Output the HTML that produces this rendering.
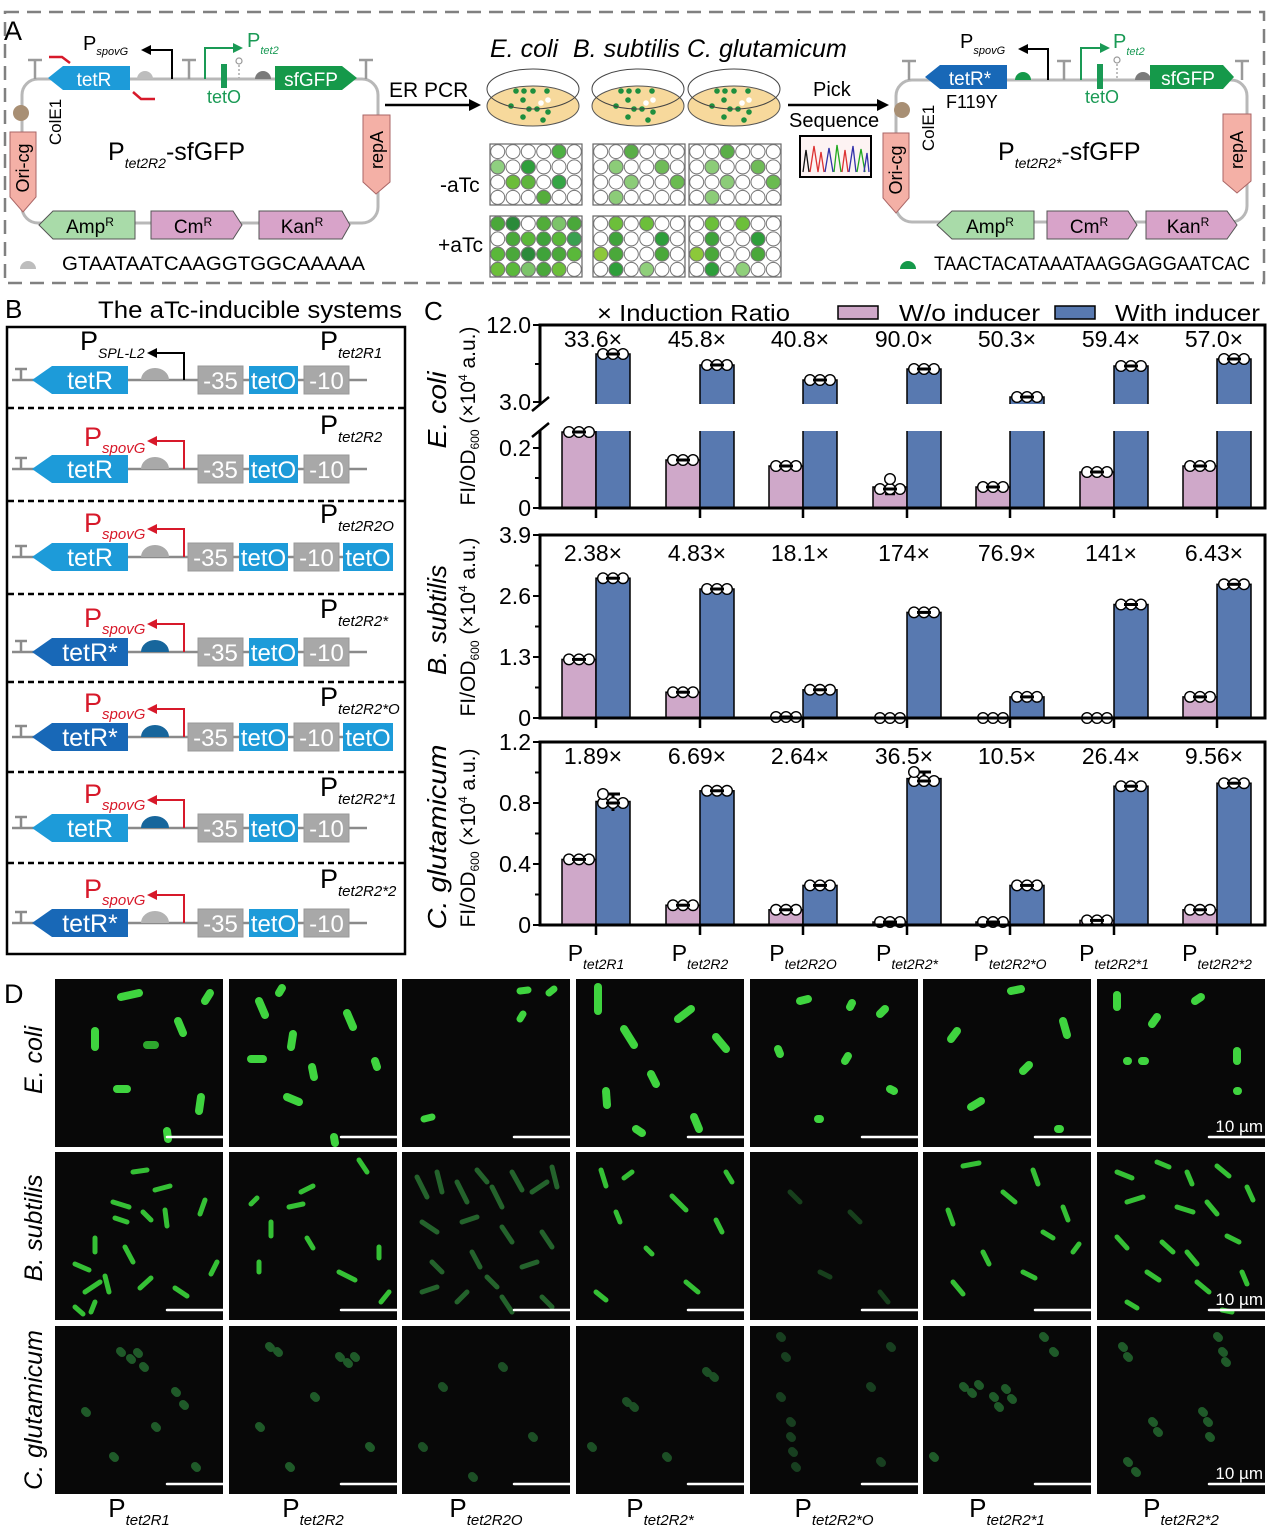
<!DOCTYPE html>
<html><head><meta charset="utf-8"><title>aTc-inducible systems figure</title>
<style>html,body{margin:0;padding:0;background:#fff}svg{display:block}text{font-family:"Liberation Sans",Arial,sans-serif}</style>
</head><body>
<svg xmlns="http://www.w3.org/2000/svg" xmlns:xlink="http://www.w3.org/1999/xlink" width="1270" height="1528" viewBox="0 0 1270 1528">
<defs>
<g id="plate"><rect x="0" y="0" width="92" height="61" fill="#fff" stroke="#666" stroke-width="1.2"/>
<g fill="none" stroke="#777" stroke-width="1">
<circle cx="7.7" cy="7.6" r="7"/><circle cx="23" cy="7.6" r="7"/><circle cx="38.3" cy="7.6" r="7"/><circle cx="53.7" cy="7.6" r="7"/><circle cx="69" cy="7.6" r="7"/><circle cx="84.3" cy="7.6" r="7"/>
<circle cx="7.7" cy="22.9" r="7"/><circle cx="23" cy="22.9" r="7"/><circle cx="38.3" cy="22.9" r="7"/><circle cx="53.7" cy="22.9" r="7"/><circle cx="69" cy="22.9" r="7"/><circle cx="84.3" cy="22.9" r="7"/>
<circle cx="7.7" cy="38.1" r="7"/><circle cx="23" cy="38.1" r="7"/><circle cx="38.3" cy="38.1" r="7"/><circle cx="53.7" cy="38.1" r="7"/><circle cx="69" cy="38.1" r="7"/><circle cx="84.3" cy="38.1" r="7"/>
<circle cx="7.7" cy="53.4" r="7"/><circle cx="23" cy="53.4" r="7"/><circle cx="38.3" cy="53.4" r="7"/><circle cx="53.7" cy="53.4" r="7"/><circle cx="69" cy="53.4" r="7"/><circle cx="84.3" cy="53.4" r="7"/>
</g></g>
<g id="d3"><circle cx="-10" cy="0" r="5.3" fill="#fff" stroke="#000" stroke-width="1.4"/><circle cx="0" cy="0" r="5.3" fill="#fff" stroke="#000" stroke-width="1.4"/><circle cx="10" cy="0" r="5.3" fill="#fff" stroke="#000" stroke-width="1.4"/><line x1="-7" y1="0" x2="7" y2="0" stroke="#000" stroke-width="3"/></g>
<clipPath id="ci"><rect x="0" y="0" width="168" height="168"/></clipPath>
</defs>

<!-- ================= PANEL A ================= -->
<rect x="5" y="12" width="1259" height="271" fill="none" stroke="#808080" stroke-width="2.5" stroke-dasharray="14 8"/>
<text x="4" y="40" font-size="27">A</text>

<!-- left plasmid -->
<rect x="22" y="79" width="356" height="144" rx="16" fill="none" stroke="#b8b8b8" stroke-width="3"/>
<path d="M35 79V60M28 60H42M189 79V60M182 60H196M366 79V60M359 60H373" stroke="#9a9a9a" stroke-width="2.5" fill="none"/>
<polygon points="48,78 63,66 130,66 130,90 63,90" fill="#1d9bd9"/>
<text x="94" y="86" font-size="19" fill="#fff" text-anchor="middle">tetR</text>
<path d="M137 79 A8 8 0 0 1 153 79 Z" fill="#bdbdbd"/>
<path d="M172 79V50H150" stroke="#000" stroke-width="2" fill="none"/>
<polygon points="141,50 151,45 151,55" fill="#000"/>
<text x="83" y="50" font-size="20">P<tspan font-size="11" font-style="italic" dy="5">spovG</tspan></text>
<path d="M205 79V48H234" stroke="#1a9a55" stroke-width="2" fill="none"/>
<polygon points="243,48 233,43 233,53" fill="#1a9a55"/>
<text x="247" y="47" font-size="20" fill="#1a9a55">P<tspan font-size="11" font-style="italic" dy="7">tet2</tspan></text>
<rect x="221" y="64" width="6" height="24" fill="#1a9a55"/>
<text x="224" y="103" font-size="18" fill="#1a9a55" text-anchor="middle">tetO</text>
<circle cx="239" cy="61" r="3" fill="#fff" stroke="#999" stroke-width="1.2"/>
<path d="M239 65V78" stroke="#aaa" stroke-width="1.5" stroke-dasharray="2 2"/>
<path d="M255 79 A8 8 0 0 1 271 79 Z" fill="#7a7a7a"/>
<polygon points="275,66 342,66 357,78 342,90 275,90" fill="#15994a"/>
<text x="311" y="86" font-size="19" fill="#fff" text-anchor="middle">sfGFP</text>
<path d="M49 57L62 57L70 63" stroke="#d7192a" stroke-width="2.5" fill="none"/>
<path d="M133 92L141 99L155 99" stroke="#d7192a" stroke-width="2.5" fill="none"/>
<circle cx="21" cy="113" r="8" fill="#a88f74"/>
<polygon points="10,132 36,132 36,197 23,212 10,197" fill="#f4b0a6" stroke="#a66" stroke-width="1"/>
<text transform="translate(23,168) rotate(-90)" x="0" y="6" font-size="18" text-anchor="middle">Ori-cg</text>
<text transform="translate(55,122) rotate(-90)" x="0" y="6" font-size="17" text-anchor="middle">ColE1</text>
<text x="108" y="160" font-size="25">P<tspan font-size="14" font-style="italic" dy="8">tet2R2</tspan><tspan dy="-8">-sfGFP</tspan></text>
<polygon points="363,115 390,115 390,182 376,194 363,182" fill="#f4b0a6" stroke="#a66" stroke-width="1"/>
<text transform="translate(377,150) rotate(-90)" x="0" y="6" font-size="18" text-anchor="middle">repA</text>
<polygon points="39,225 53,211 135,211 135,239 53,239" fill="#a9dba9" stroke="#555" stroke-width="1"/>
<text x="90" y="233" font-size="19" text-anchor="middle">Amp<tspan font-size="12" dy="-7">R</tspan></text>
<polygon points="151,211 233,211 242,225 233,239 151,239" fill="#d8a3c9" stroke="#555" stroke-width="1"/>
<text x="193" y="233" font-size="19" text-anchor="middle">Cm<tspan font-size="12" dy="-7">R</tspan></text>
<polygon points="259,211 342,211 350,225 342,239 259,239" fill="#d8a3c9" stroke="#555" stroke-width="1"/>
<text x="302" y="233" font-size="19" text-anchor="middle">Kan<tspan font-size="12" dy="-7">R</tspan></text>
<path d="M20 269 A8 8 0 0 1 36 269 Z" fill="#bdbdbd"/>
<text x="62" y="270" font-size="19" textLength="303" lengthAdjust="spacingAndGlyphs">GTAATAATCAAGGTGGCAAAAA</text>

<!-- middle -->
<text x="490" y="57" font-size="25" font-style="italic">E. coli</text>
<text x="573" y="57" font-size="25" font-style="italic">B. subtilis</text>
<text x="687" y="57" font-size="25" font-style="italic">C. glutamicum</text>
<text x="389" y="97" font-size="21">ER PCR</text>
<path d="M385 105H471" stroke="#000" stroke-width="2.5"/>
<polygon points="481,105 469,99 469,111" fill="#000"/>
<g>
<ellipse cx="533" cy="106" rx="46" ry="20" fill="#f7d99c" stroke="#555" stroke-width="1"/>
<ellipse cx="638" cy="106" rx="46" ry="20" fill="#f7d99c" stroke="#555" stroke-width="1"/>
<ellipse cx="734" cy="106" rx="46" ry="20" fill="#f7d99c" stroke="#555" stroke-width="1"/>
</g>
<g fill="#1e8f3e">
<circle cx="516" cy="91" r="2.8"/><circle cx="524" cy="91" r="2.8"/><circle cx="533" cy="91" r="2.8"/><circle cx="547" cy="91" r="2.8"/><circle cx="523" cy="100" r="2.8"/><circle cx="511" cy="106" r="2.8"/><circle cx="529" cy="109" r="2.8"/><circle cx="537" cy="109" r="2.8"/><circle cx="548" cy="112" r="2.8"/><circle cx="523" cy="117" r="2.8"/><circle cx="543" cy="120" r="2.8"/>
<circle cx="621" cy="91" r="2.8"/><circle cx="629" cy="91" r="2.8"/><circle cx="638" cy="91" r="2.8"/><circle cx="652" cy="91" r="2.8"/><circle cx="628" cy="100" r="2.8"/><circle cx="616" cy="106" r="2.8"/><circle cx="634" cy="109" r="2.8"/><circle cx="642" cy="109" r="2.8"/><circle cx="653" cy="112" r="2.8"/><circle cx="628" cy="117" r="2.8"/><circle cx="648" cy="120" r="2.8"/>
<circle cx="717" cy="91" r="2.8"/><circle cx="725" cy="91" r="2.8"/><circle cx="734" cy="91" r="2.8"/><circle cx="748" cy="91" r="2.8"/><circle cx="724" cy="100" r="2.8"/><circle cx="712" cy="106" r="2.8"/><circle cx="730" cy="109" r="2.8"/><circle cx="738" cy="109" r="2.8"/><circle cx="749" cy="112" r="2.8"/><circle cx="724" cy="117" r="2.8"/><circle cx="744" cy="120" r="2.8"/>
</g>
<g fill="#fff"><circle cx="548" cy="100" r="2.8"/><circle cx="541" cy="103" r="2.8"/><circle cx="653" cy="100" r="2.8"/><circle cx="646" cy="103" r="2.8"/><circle cx="749" cy="100" r="2.8"/><circle cx="742" cy="103" r="2.8"/></g>
<g fill="none" stroke="#444" stroke-width="1">
<ellipse cx="533" cy="89" rx="46" ry="20"/><ellipse cx="638" cy="89" rx="46" ry="20"/><ellipse cx="734" cy="89" rx="46" ry="20"/>
</g>
<text x="440" y="192" font-size="21">-aTc</text>
<text x="438" y="252" font-size="21">+aTc</text>
<use xlink:href="#plate" x="490" y="144"/><use xlink:href="#plate" x="593" y="144"/><use xlink:href="#plate" x="689" y="144"/>
<use xlink:href="#plate" x="490" y="216"/><use xlink:href="#plate" x="593" y="216"/><use xlink:href="#plate" x="689" y="216"/>
<g stroke="#777" stroke-width="1">
<circle cx="559" cy="151.6" r="7" fill="#4db043"/><circle cx="497.7" cy="166.9" r="7" fill="#8fcf80"/><circle cx="528.3" cy="166.9" r="7" fill="#2f9f3c"/><circle cx="513" cy="182.1" r="7" fill="#6cbd3a"/><circle cx="528.3" cy="182.1" r="7" fill="#5eb53c"/><circle cx="559" cy="182.1" r="7" fill="#35a545"/><circle cx="543.7" cy="197.4" r="7" fill="#55ad3c"/>
<circle cx="631.3" cy="151.6" r="7" fill="#5aae48"/><circle cx="616" cy="166.9" r="7" fill="#8ccc78"/><circle cx="662" cy="166.9" r="7" fill="#6fbb58"/><circle cx="631.3" cy="182.1" r="7" fill="#8ccc78"/><circle cx="677.3" cy="182.1" r="7" fill="#6abb50"/><circle cx="616" cy="197.4" r="7" fill="#8ccc78"/>
<circle cx="727.3" cy="151.6" r="7" fill="#5aae48"/><circle cx="712" cy="166.9" r="7" fill="#8ccc78"/><circle cx="758" cy="166.9" r="7" fill="#6fbb58"/><circle cx="727.3" cy="182.1" r="7" fill="#8ccc78"/><circle cx="773.3" cy="182.1" r="7" fill="#6abb50"/><circle cx="712" cy="197.4" r="7" fill="#8ccc78"/>
<circle cx="497.7" cy="223.6" r="7" fill="#4aa83a"/><circle cx="513" cy="223.6" r="7" fill="#2a8a3a"/><circle cx="543.7" cy="223.6" r="7" fill="#52ad3a"/><circle cx="559" cy="223.6" r="7" fill="#7cc46a"/><circle cx="574.3" cy="223.6" r="7" fill="#4aa83a"/>
<circle cx="513" cy="238.9" r="7" fill="#4aa83a"/><circle cx="528.3" cy="238.9" r="7" fill="#5ab83a"/><circle cx="543.7" cy="238.9" r="7" fill="#3fa33a"/><circle cx="559" cy="238.9" r="7" fill="#5ab83a"/><circle cx="574.3" cy="238.9" r="7" fill="#3aa050"/>
<circle cx="497.7" cy="254.1" r="7" fill="#5ab83a"/><circle cx="513" cy="254.1" r="7" fill="#4aa83a"/><circle cx="528.3" cy="254.1" r="7" fill="#2a8a3a"/><circle cx="543.7" cy="254.1" r="7" fill="#3fa33a"/><circle cx="559" cy="254.1" r="7" fill="#4aa83a"/><circle cx="574.3" cy="254.1" r="7" fill="#5ab83a"/>
<circle cx="497.7" cy="269.4" r="7" fill="#6cbf3a"/><circle cx="513" cy="269.4" r="7" fill="#5ab83a"/><circle cx="528.3" cy="269.4" r="7" fill="#7cc46a"/><circle cx="543.7" cy="269.4" r="7" fill="#4aa83a"/><circle cx="559" cy="269.4" r="7" fill="#6cbf3a"/>
<circle cx="616" cy="223.6" r="7" fill="#6cbf3a"/><circle cx="646.7" cy="223.6" r="7" fill="#6cbf3a"/><circle cx="616" cy="238.9" r="7" fill="#3fa33a"/><circle cx="662" cy="238.9" r="7" fill="#2e9e3a"/><circle cx="600.7" cy="254.1" r="7" fill="#8cc83a"/><circle cx="616" cy="254.1" r="7" fill="#4aa83a"/><circle cx="662" cy="254.1" r="7" fill="#4aa83a"/><circle cx="616" cy="269.4" r="7" fill="#2e9e3a"/><circle cx="646.7" cy="269.4" r="7" fill="#8fcf7a"/>
<circle cx="712" cy="223.6" r="7" fill="#6cbf3a"/><circle cx="742.7" cy="223.6" r="7" fill="#6cbf3a"/><circle cx="712" cy="238.9" r="7" fill="#3fa33a"/><circle cx="758" cy="238.9" r="7" fill="#2e9e3a"/><circle cx="696.7" cy="254.1" r="7" fill="#8cc83a"/><circle cx="712" cy="254.1" r="7" fill="#4aa83a"/><circle cx="758" cy="254.1" r="7" fill="#4aa83a"/><circle cx="712" cy="269.4" r="7" fill="#2e9e3a"/><circle cx="742.7" cy="269.4" r="7" fill="#8fcf7a"/>
</g>
<text x="813" y="96" font-size="20">Pick</text>
<path d="M788 105H878" stroke="#000" stroke-width="2.5"/>
<polygon points="889,105 877,99 877,111" fill="#000"/>
<text x="789" y="127" font-size="20">Sequence</text>
<rect x="800" y="136" width="71" height="41" fill="#fdf3f3" stroke="#000" stroke-width="2"/>
<g fill="none" stroke-width="1.3">
<polyline points="803,172 806,150 809,172" stroke="#111"/>
<polyline points="810,172 814,146 818,172 821,152 824,172" stroke="#d33"/>
<polyline points="825,172 829,148 833,172" stroke="#33a"/>
<polyline points="834,172 837,145 841,172" stroke="#2a2"/>
<polyline points="842,172 845,150 848,172" stroke="#d33"/>
<polyline points="849,172 853,146 856,172" stroke="#33a"/>
<polyline points="857,172 861,149 865,172" stroke="#2a2"/>
<polyline points="864,172 867,153 869,172" stroke="#33a"/>
</g>

<!-- right plasmid -->
<rect x="896" y="80" width="351" height="142" rx="16" fill="none" stroke="#b8b8b8" stroke-width="3"/>
<path d="M909 80V61M902 61H916M1064 80V61M1057 61H1071M1242 80V61M1235 61H1249" stroke="#9a9a9a" stroke-width="2.5" fill="none"/>
<polygon points="925,77 940,65 1007,65 1007,89 940,89" fill="#1868b7"/>
<text x="970" y="85" font-size="19" fill="#fff" text-anchor="middle">tetR*</text>
<text x="946" y="108" font-size="18">F119Y</text>
<path d="M1015 80 A8 8 0 0 1 1031 80 Z" fill="#15994a"/>
<path d="M1048 80V49H1027" stroke="#000" stroke-width="2" fill="none"/>
<polygon points="1018,49 1028,44 1028,54" fill="#000"/>
<text x="960" y="48" font-size="20">P<tspan font-size="11" font-style="italic" dy="6">spovG</tspan></text>
<path d="M1081 80V48H1101" stroke="#1a9a55" stroke-width="2" fill="none"/>
<polygon points="1110,48 1100,43 1100,53" fill="#1a9a55"/>
<text x="1113" y="48" font-size="20" fill="#1a9a55">P<tspan font-size="11" font-style="italic" dy="7">tet2</tspan></text>
<rect x="1097" y="64" width="6" height="25" fill="#1a9a55"/>
<text x="1102" y="103" font-size="18" fill="#1a9a55" text-anchor="middle">tetO</text>
<circle cx="1117" cy="60" r="3" fill="#fff" stroke="#999" stroke-width="1.2"/>
<path d="M1117 64V79" stroke="#aaa" stroke-width="1.5" stroke-dasharray="2 2"/>
<path d="M1135 80 A8 8 0 0 1 1151 80 Z" fill="#7a7a7a"/>
<polygon points="1150,65 1223,65 1234,77 1223,89 1150,89" fill="#15994a"/>
<text x="1188" y="85" font-size="19" fill="#fff" text-anchor="middle">sfGFP</text>
<circle cx="902" cy="110" r="8" fill="#a88f74"/>
<polygon points="883,133 909,133 909,198 896,213 883,198" fill="#f4b0a6" stroke="#a66" stroke-width="1"/>
<text transform="translate(896,170) rotate(-90)" x="0" y="6" font-size="18" text-anchor="middle">Ori-cg</text>
<text transform="translate(928,128) rotate(-90)" x="0" y="6" font-size="17" text-anchor="middle">ColE1</text>
<text x="998" y="160" font-size="25">P<tspan font-size="14" font-style="italic" dy="8">tet2R2*</tspan><tspan dy="-8">-sfGFP</tspan></text>
<polygon points="1223,114 1251,114 1251,181 1237,193 1223,181" fill="#f4b0a6" stroke="#a66" stroke-width="1"/>
<text transform="translate(1237,150) rotate(-90)" x="0" y="6" font-size="18" text-anchor="middle">repA</text>
<polygon points="937,225 952,211 1034,211 1034,239 952,239" fill="#a9dba9" stroke="#555" stroke-width="1"/>
<text x="990" y="233" font-size="19" text-anchor="middle">Amp<tspan font-size="12" dy="-7">R</tspan></text>
<polygon points="1047,211 1128,211 1137,225 1128,239 1047,239" fill="#d8a3c9" stroke="#555" stroke-width="1"/>
<text x="1089" y="233" font-size="19" text-anchor="middle">Cm<tspan font-size="12" dy="-7">R</tspan></text>
<polygon points="1146,211 1227,211 1237,225 1227,239 1146,239" fill="#d8a3c9" stroke="#555" stroke-width="1"/>
<text x="1188" y="233" font-size="19" text-anchor="middle">Kan<tspan font-size="12" dy="-7">R</tspan></text>
<path d="M900 269 A8 8 0 0 1 916 269 Z" fill="#15994a"/>
<text x="934" y="270" font-size="19" textLength="316" lengthAdjust="spacingAndGlyphs">TAACTACATAAATAAGGAGGAATCAC</text>

<!-- ================= PANEL B ================= -->
<text x="5" y="318" font-size="26">B</text>
<text x="98" y="318" font-size="24" textLength="304" lengthAdjust="spacingAndGlyphs">The aTc-inducible systems</text>
<rect x="7" y="327" width="398" height="627" fill="none" stroke="#000" stroke-width="2.5"/>
<g stroke="#000" stroke-width="2.5" stroke-dasharray="6 4">
<path d="M8 408H404M8 501H404M8 594H404M8 682H404M8 772H404M8 863H404"/>
</g>

<!-- row 1 -->
<g>
<path d="M12 380H367" stroke="#8a8a8a" stroke-width="2.5"/>
<path d="M21 380V369M15 369H27" stroke="#8a8a8a" stroke-width="2.5" fill="none"/>
<polygon points="32,380 52,366 128,366 128,394 52,394" fill="#1d9bd9"/>
<text x="90" y="389" font-size="25" fill="#fff" text-anchor="middle">tetR</text>
<path d="M141 380 A14 12 0 0 1 169 380 Z" fill="#a9a9a9"/>
<path d="M184 380V353H156" stroke="#000" stroke-width="2" fill="none"/>
<polygon points="147,353 157,348 157,358" fill="#000"/>
<text x="80" y="350" font-size="27">P<tspan font-size="14" font-style="italic" dy="8">SPL-L2</tspan></text>
<rect x="198" y="366" width="45" height="28" fill="#a8a8a8" stroke="#999"/><text x="220.5" y="389" font-size="24" fill="#fff" text-anchor="middle">-35</text>
<rect x="249" y="366" width="49" height="28" fill="#1d9bd9"/><text x="273.5" y="389" font-size="24" fill="#fff" text-anchor="middle">tetO</text>
<rect x="304" y="366" width="45" height="28" fill="#a8a8a8" stroke="#999"/><text x="326.5" y="389" font-size="24" fill="#fff" text-anchor="middle">-10</text>
<text x="320" y="350" font-size="27">P<tspan font-size="15" font-style="italic" dy="8">tet2R1</tspan></text>
</g>
<!-- row 2 -->
<g>
<path d="M12 469H367" stroke="#8a8a8a" stroke-width="2.5"/>
<path d="M21 469V458M15 458H27" stroke="#8a8a8a" stroke-width="2.5" fill="none"/>
<polygon points="32,469 52,455 128,455 128,483 52,483" fill="#1d9bd9"/>
<text x="90" y="478" font-size="25" fill="#fff" text-anchor="middle">tetR</text>
<path d="M141 469 A14 12 0 0 1 169 469 Z" fill="#a9a9a9"/>
<path d="M184 469V441H156" stroke="#d7192a" stroke-width="2" fill="none"/>
<polygon points="147,441 157,436 157,446" fill="#d7192a"/>
<text x="84" y="446" font-size="27" fill="#d7192a">P<tspan font-size="15" font-style="italic" dy="7">spovG</tspan></text>
<rect x="198" y="455" width="45" height="28" fill="#a8a8a8" stroke="#999"/><text x="220.5" y="478" font-size="24" fill="#fff" text-anchor="middle">-35</text>
<rect x="249" y="455" width="49" height="28" fill="#1d9bd9"/><text x="273.5" y="478" font-size="24" fill="#fff" text-anchor="middle">tetO</text>
<rect x="304" y="455" width="45" height="28" fill="#a8a8a8" stroke="#999"/><text x="326.5" y="478" font-size="24" fill="#fff" text-anchor="middle">-10</text>
<text x="320" y="434" font-size="27">P<tspan font-size="15" font-style="italic" dy="8">tet2R2</tspan></text>
</g>
<!-- row 3 -->
<g>
<path d="M12 557H393" stroke="#8a8a8a" stroke-width="2.5"/>
<path d="M21 557V546M15 546H27" stroke="#8a8a8a" stroke-width="2.5" fill="none"/>
<polygon points="32,557 52,543 128,543 128,571 52,571" fill="#1d9bd9"/>
<text x="90" y="566" font-size="25" fill="#fff" text-anchor="middle">tetR</text>
<path d="M141 557 A14 12 0 0 1 169 557 Z" fill="#a9a9a9"/>
<path d="M184 557V529H156" stroke="#d7192a" stroke-width="2" fill="none"/>
<polygon points="147,529 157,524 157,534" fill="#d7192a"/>
<text x="84" y="532" font-size="27" fill="#d7192a">P<tspan font-size="15" font-style="italic" dy="7">spovG</tspan></text>
<rect x="188" y="543" width="45" height="28" fill="#a8a8a8" stroke="#999"/><text x="210.5" y="566" font-size="24" fill="#fff" text-anchor="middle">-35</text>
<rect x="239" y="543" width="49" height="28" fill="#1d9bd9"/><text x="263.5" y="566" font-size="24" fill="#fff" text-anchor="middle">tetO</text>
<rect x="294" y="543" width="45" height="28" fill="#a8a8a8" stroke="#999"/><text x="316.5" y="566" font-size="24" fill="#fff" text-anchor="middle">-10</text>
<rect x="343" y="543" width="50" height="28" fill="#1d9bd9"/><text x="368" y="566" font-size="24" fill="#fff" text-anchor="middle">tetO</text>
<text x="320" y="523" font-size="27">P<tspan font-size="15" font-style="italic" dy="8">tet2R2O</tspan></text>
</g>
<!-- row 4 -->
<g>
<path d="M12 652H367" stroke="#8a8a8a" stroke-width="2.5"/>
<path d="M21 652V641M15 641H27" stroke="#8a8a8a" stroke-width="2.5" fill="none"/>
<polygon points="32,652 52,638 128,638 128,666 52,666" fill="#1868b7"/>
<text x="90" y="661" font-size="25" fill="#fff" text-anchor="middle">tetR*</text>
<path d="M141 652 A14 12 0 0 1 169 652 Z" fill="#17669c"/>
<path d="M184 652V624H156" stroke="#d7192a" stroke-width="2" fill="none"/>
<polygon points="147,624 157,619 157,629" fill="#d7192a"/>
<text x="84" y="627" font-size="27" fill="#d7192a">P<tspan font-size="15" font-style="italic" dy="7">spovG</tspan></text>
<rect x="198" y="638" width="45" height="28" fill="#a8a8a8" stroke="#999"/><text x="220.5" y="661" font-size="24" fill="#fff" text-anchor="middle">-35</text>
<rect x="249" y="638" width="49" height="28" fill="#1d9bd9"/><text x="273.5" y="661" font-size="24" fill="#fff" text-anchor="middle">tetO</text>
<rect x="304" y="638" width="45" height="28" fill="#a8a8a8" stroke="#999"/><text x="326.5" y="661" font-size="24" fill="#fff" text-anchor="middle">-10</text>
<text x="320" y="618" font-size="27">P<tspan font-size="15" font-style="italic" dy="8">tet2R2*</tspan></text>
</g>
<!-- row 5 -->
<g>
<path d="M12 737H393" stroke="#8a8a8a" stroke-width="2.5"/>
<path d="M21 737V726M15 726H27" stroke="#8a8a8a" stroke-width="2.5" fill="none"/>
<polygon points="32,737 52,723 128,723 128,751 52,751" fill="#1868b7"/>
<text x="90" y="746" font-size="25" fill="#fff" text-anchor="middle">tetR*</text>
<path d="M141 737 A14 12 0 0 1 169 737 Z" fill="#17669c"/>
<path d="M184 737V709H156" stroke="#d7192a" stroke-width="2" fill="none"/>
<polygon points="147,709 157,704 157,714" fill="#d7192a"/>
<text x="84" y="712" font-size="27" fill="#d7192a">P<tspan font-size="15" font-style="italic" dy="7">spovG</tspan></text>
<rect x="188" y="723" width="45" height="28" fill="#a8a8a8" stroke="#999"/><text x="210.5" y="746" font-size="24" fill="#fff" text-anchor="middle">-35</text>
<rect x="239" y="723" width="49" height="28" fill="#1d9bd9"/><text x="263.5" y="746" font-size="24" fill="#fff" text-anchor="middle">tetO</text>
<rect x="294" y="723" width="45" height="28" fill="#a8a8a8" stroke="#999"/><text x="316.5" y="746" font-size="24" fill="#fff" text-anchor="middle">-10</text>
<rect x="343" y="723" width="50" height="28" fill="#1d9bd9"/><text x="368" y="746" font-size="24" fill="#fff" text-anchor="middle">tetO</text>
<text x="320" y="706" font-size="27">P<tspan font-size="15" font-style="italic" dy="8">tet2R2*O</tspan></text>
</g>
<!-- row 6 -->
<g>
<path d="M12 828H367" stroke="#8a8a8a" stroke-width="2.5"/>
<path d="M21 828V817M15 817H27" stroke="#8a8a8a" stroke-width="2.5" fill="none"/>
<polygon points="32,828 52,814 128,814 128,842 52,842" fill="#1d9bd9"/>
<text x="90" y="837" font-size="25" fill="#fff" text-anchor="middle">tetR</text>
<path d="M141 828 A14 12 0 0 1 169 828 Z" fill="#17669c"/>
<path d="M184 828V800H156" stroke="#d7192a" stroke-width="2" fill="none"/>
<polygon points="147,800 157,795 157,805" fill="#d7192a"/>
<text x="84" y="803" font-size="27" fill="#d7192a">P<tspan font-size="15" font-style="italic" dy="7">spovG</tspan></text>
<rect x="198" y="814" width="45" height="28" fill="#a8a8a8" stroke="#999"/><text x="220.5" y="837" font-size="24" fill="#fff" text-anchor="middle">-35</text>
<rect x="249" y="814" width="49" height="28" fill="#1d9bd9"/><text x="273.5" y="837" font-size="24" fill="#fff" text-anchor="middle">tetO</text>
<rect x="304" y="814" width="45" height="28" fill="#a8a8a8" stroke="#999"/><text x="326.5" y="837" font-size="24" fill="#fff" text-anchor="middle">-10</text>
<text x="320" y="796" font-size="27">P<tspan font-size="15" font-style="italic" dy="8">tet2R2*1</tspan></text>
</g>
<!-- row 7 -->
<g>
<path d="M12 923H367" stroke="#8a8a8a" stroke-width="2.5"/>
<path d="M21 923V912M15 912H27" stroke="#8a8a8a" stroke-width="2.5" fill="none"/>
<polygon points="32,923 52,909 128,909 128,937 52,937" fill="#1868b7"/>
<text x="90" y="932" font-size="25" fill="#fff" text-anchor="middle">tetR*</text>
<path d="M141 923 A14 12 0 0 1 169 923 Z" fill="#b3b3b3"/>
<path d="M184 923V895H156" stroke="#d7192a" stroke-width="2" fill="none"/>
<polygon points="147,895 157,890 157,900" fill="#d7192a"/>
<text x="84" y="898" font-size="27" fill="#d7192a">P<tspan font-size="15" font-style="italic" dy="7">spovG</tspan></text>
<rect x="198" y="909" width="45" height="28" fill="#a8a8a8" stroke="#999"/><text x="220.5" y="932" font-size="24" fill="#fff" text-anchor="middle">-35</text>
<rect x="249" y="909" width="49" height="28" fill="#1d9bd9"/><text x="273.5" y="932" font-size="24" fill="#fff" text-anchor="middle">tetO</text>
<rect x="304" y="909" width="45" height="28" fill="#a8a8a8" stroke="#999"/><text x="326.5" y="932" font-size="24" fill="#fff" text-anchor="middle">-10</text>
<text x="320" y="888" font-size="27">P<tspan font-size="15" font-style="italic" dy="8">tet2R2*2</tspan></text>
</g>

<!-- ================= PANEL C ================= -->
<text x="424" y="320" font-size="26">C</text>
<text x="597" y="321" font-size="23" textLength="193" lengthAdjust="spacingAndGlyphs">× Induction Ratio</text>
<rect x="838" y="306" width="40" height="13" fill="#cfa8c9" stroke="#000" stroke-width="1.5"/>
<text x="899" y="321" font-size="23" textLength="141" lengthAdjust="spacingAndGlyphs">W/o inducer</text>
<rect x="1055" y="306" width="40" height="13" fill="#5879b0" stroke="#000" stroke-width="1.5"/>
<text x="1115" y="321" font-size="23" textLength="145" lengthAdjust="spacingAndGlyphs">With inducer</text>

<!-- axis titles -->
<text transform="translate(446,410) rotate(-90)" font-size="26" font-style="italic" text-anchor="middle" textLength="77" lengthAdjust="spacingAndGlyphs">E. coli</text>
<text transform="translate(475,416) rotate(-90)" font-size="21" text-anchor="middle">FI/OD<tspan font-size="12" dy="4">600</tspan><tspan dy="-4"> (×10</tspan><tspan font-size="12" dy="-8">4</tspan><tspan dy="8"> a.u.)</tspan></text>
<text transform="translate(446,620) rotate(-90)" font-size="26" font-style="italic" text-anchor="middle" textLength="110" lengthAdjust="spacingAndGlyphs">B. subtilis</text>
<text transform="translate(475,627) rotate(-90)" font-size="21" text-anchor="middle">FI/OD<tspan font-size="12" dy="4">600</tspan><tspan dy="-4"> (×10</tspan><tspan font-size="12" dy="-8">4</tspan><tspan dy="8"> a.u.)</tspan></text>
<text transform="translate(446,837) rotate(-90)" font-size="26" font-style="italic" text-anchor="middle" textLength="185" lengthAdjust="spacingAndGlyphs">C. glutamicum</text>
<text transform="translate(475,838) rotate(-90)" font-size="21" text-anchor="middle">FI/OD<tspan font-size="12" dy="4">600</tspan><tspan dy="-4"> (×10</tspan><tspan font-size="12" dy="-8">4</tspan><tspan dy="8"> a.u.)</tspan></text>

<!-- E. coli subplot -->
<g stroke="#000" stroke-width="1.5">
<rect x="562" y="432" width="34" height="76" fill="#cfa8c9"/>
<rect x="666" y="460" width="34" height="48" fill="#cfa8c9"/>
<rect x="769" y="466" width="34" height="42" fill="#cfa8c9"/>
<rect x="873" y="487" width="34" height="21" fill="#cfa8c9"/>
<rect x="976" y="487" width="34" height="21" fill="#cfa8c9"/>
<rect x="1080" y="472" width="34" height="36" fill="#cfa8c9"/>
<rect x="1183" y="466" width="34" height="42" fill="#cfa8c9"/>
</g>
<g fill="#5879b0">
<rect x="596" y="354" width="34" height="50"/><rect x="700" y="365" width="34" height="39"/><rect x="803" y="380" width="34" height="24"/><rect x="907" y="369" width="34" height="35"/><rect x="1010" y="397" width="34" height="7"/><rect x="1114" y="366" width="34" height="38"/><rect x="1217" y="359" width="34" height="45"/>
<rect x="596" y="431" width="34" height="77"/><rect x="700" y="431" width="34" height="77"/><rect x="803" y="431" width="34" height="77"/><rect x="907" y="431" width="34" height="77"/><rect x="1010" y="431" width="34" height="77"/><rect x="1114" y="431" width="34" height="77"/><rect x="1217" y="431" width="34" height="77"/>
</g>
<g fill="none" stroke="#000" stroke-width="1.5">
<path d="M596 404V354H630V404M700 404V365H734V404M803 404V380H837V404M907 404V369H941V404M1010 404V397H1044V404M1114 404V366H1148V404M1217 404V359H1251V404"/>
<path d="M596 431V508M630 431V508M700 431V508M734 431V508M803 431V508M837 431V508M907 431V508M941 431V508M1010 431V508M1044 431V508M1114 431V508M1148 431V508M1217 431V508M1251 431V508"/>
</g>
<path d="M890 479V494M885 479H895M885 494H895" stroke="#000" stroke-width="2.5"/>
<use xlink:href="#d3" x="579" y="432"/><use xlink:href="#d3" x="683" y="460"/><use xlink:href="#d3" x="786" y="466"/><use xlink:href="#d3" x="890" y="489"/><use xlink:href="#d3" x="993" y="487"/><use xlink:href="#d3" x="1097" y="472"/><use xlink:href="#d3" x="1200" y="466"/>
<circle cx="890" cy="479" r="5.3" fill="#fff" stroke="#000" stroke-width="1.4"/>
<use xlink:href="#d3" x="613" y="354"/><use xlink:href="#d3" x="717" y="365"/><use xlink:href="#d3" x="820" y="380"/><use xlink:href="#d3" x="924" y="369"/><use xlink:href="#d3" x="1027" y="397"/><use xlink:href="#d3" x="1131" y="366"/><use xlink:href="#d3" x="1234" y="359"/>
<path d="M540 404V325H1265V508H540V431" fill="none" stroke="#000" stroke-width="3"/>
<path d="M532 411L549 397M532 437L549 423" stroke="#000" stroke-width="2.5"/>
<path d="M533 325H540M533 402H540M535 364H540M533 448H540M535 478H540M533 508H540" stroke="#000" stroke-width="2"/>
<g font-size="23" text-anchor="end">
<text x="531" y="333">12.0</text><text x="531" y="410">3.0</text><text x="531" y="456">0.2</text><text x="531" y="516">0</text>
</g>
<path d="M596 508V518M700 508V518M803 508V518M907 508V518M1010 508V518M1114 508V518M1217 508V518" stroke="#000" stroke-width="2.5"/>
<g font-size="23" text-anchor="middle">
<text x="593" y="347">33.6×</text><text x="697" y="347">45.8×</text><text x="800" y="347">40.8×</text><text x="904" y="347">90.0×</text><text x="1007" y="347">50.3×</text><text x="1111" y="347">59.4×</text><text x="1214" y="347">57.0×</text>
</g>

<!-- B. subtilis subplot -->
<g stroke="#000" stroke-width="1.5">
<rect x="562" y="659.4" width="34" height="58.6" fill="#cfa8c9"/>
<rect x="666" y="692.2" width="34" height="25.8" fill="#cfa8c9"/>
<rect x="1183" y="696.9" width="34" height="21.1" fill="#cfa8c9"/>
<rect x="596" y="578.2" width="34" height="139.8" fill="#5879b0"/>
<rect x="700" y="589" width="34" height="129" fill="#5879b0"/>
<rect x="803" y="689.8" width="34" height="28.2" fill="#5879b0"/>
<rect x="907" y="612.4" width="34" height="105.6" fill="#5879b0"/>
<rect x="1010" y="696.9" width="34" height="21.1" fill="#5879b0"/>
<rect x="1114" y="604.5" width="34" height="113.5" fill="#5879b0"/>
<rect x="1217" y="584.3" width="34" height="133.7" fill="#5879b0"/>
</g>
<use xlink:href="#d3" x="579" y="659.4"/><use xlink:href="#d3" x="683" y="692.2"/><use xlink:href="#d3" x="786" y="717"/><use xlink:href="#d3" x="890" y="718"/><use xlink:href="#d3" x="993" y="718"/><use xlink:href="#d3" x="1097" y="718"/><use xlink:href="#d3" x="1200" y="696.9"/>
<use xlink:href="#d3" x="613" y="578.2"/><use xlink:href="#d3" x="717" y="589"/><use xlink:href="#d3" x="820" y="689.8"/><use xlink:href="#d3" x="924" y="612.4"/><use xlink:href="#d3" x="1027" y="696.9"/><use xlink:href="#d3" x="1131" y="604.5"/><use xlink:href="#d3" x="1234" y="584.3"/>
<rect x="540" y="535" width="725" height="183" fill="none" stroke="#000" stroke-width="3"/>
<path d="M533 535H540M533 596H540M533 657H540M533 718H540M535 565.5H540M535 626.5H540M535 687.5H540" stroke="#000" stroke-width="2"/>
<g font-size="23" text-anchor="end">
<text x="531" y="543">3.9</text><text x="531" y="604">2.6</text><text x="531" y="665">1.3</text><text x="531" y="726">0</text>
</g>
<path d="M596 718V728M700 718V728M803 718V728M907 718V728M1010 718V728M1114 718V728M1217 718V728" stroke="#000" stroke-width="2.5"/>
<g font-size="23" text-anchor="middle">
<text x="593" y="561">2.38×</text><text x="697" y="561">4.83×</text><text x="800" y="561">18.1×</text><text x="904" y="561">174×</text><text x="1007" y="561">76.9×</text><text x="1111" y="561">141×</text><text x="1214" y="561">6.43×</text>
</g>

<!-- C. glutamicum subplot -->
<g stroke="#000" stroke-width="1.5">
<rect x="562" y="859.4" width="34" height="65.6" fill="#cfa8c9"/>
<rect x="666" y="905.2" width="34" height="19.8" fill="#cfa8c9"/>
<rect x="769" y="909.8" width="34" height="15.2" fill="#cfa8c9"/>
<rect x="873" y="922" width="34" height="3" fill="#cfa8c9"/>
<rect x="976" y="922" width="34" height="3" fill="#cfa8c9"/>
<rect x="1080" y="920.4" width="34" height="4.6" fill="#cfa8c9"/>
<rect x="1183" y="909.8" width="34" height="15.2" fill="#cfa8c9"/>
<rect x="596" y="801.5" width="34" height="123.5" fill="#5879b0"/>
<rect x="700" y="790.8" width="34" height="134.2" fill="#5879b0"/>
<rect x="803" y="885.4" width="34" height="39.6" fill="#5879b0"/>
<rect x="907" y="778.6" width="34" height="146.4" fill="#5879b0"/>
<rect x="1010" y="885.4" width="34" height="39.6" fill="#5879b0"/>
<rect x="1114" y="786.2" width="34" height="138.8" fill="#5879b0"/>
<rect x="1217" y="783.2" width="34" height="141.8" fill="#5879b0"/>
</g>
<path d="M613 794V811M606 794H620M924 772V785M917 772H931" stroke="#000" stroke-width="3"/>
<use xlink:href="#d3" x="579" y="859.4"/><use xlink:href="#d3" x="683" y="905.2"/><use xlink:href="#d3" x="786" y="909.8"/><use xlink:href="#d3" x="890" y="922"/><use xlink:href="#d3" x="993" y="922"/><use xlink:href="#d3" x="1097" y="920.4"/><use xlink:href="#d3" x="1200" y="909.8"/>
<use xlink:href="#d3" x="613" y="803"/><use xlink:href="#d3" x="717" y="790.8"/><use xlink:href="#d3" x="820" y="885.4"/><use xlink:href="#d3" x="924" y="781"/><use xlink:href="#d3" x="1027" y="885.4"/><use xlink:href="#d3" x="1131" y="786.2"/><use xlink:href="#d3" x="1234" y="783.2"/>
<circle cx="603" cy="794" r="5.3" fill="#fff" stroke="#000" stroke-width="1.4"/>
<circle cx="914" cy="772" r="5.3" fill="#fff" stroke="#000" stroke-width="1.4"/>
<rect x="540" y="742" width="725" height="183" fill="none" stroke="#000" stroke-width="3"/>
<path d="M533 742H540M533 803H540M533 864H540M533 925H540M535 772.5H540M535 833.5H540M535 894.5H540" stroke="#000" stroke-width="2"/>
<g font-size="23" text-anchor="end">
<text x="531" y="750">1.2</text><text x="531" y="811">0.8</text><text x="531" y="872">0.4</text><text x="531" y="933">0</text>
</g>
<path d="M596 925V935M700 925V935M803 925V935M907 925V935M1010 925V935M1114 925V935M1217 925V935" stroke="#000" stroke-width="2.5"/>
<g font-size="23" text-anchor="middle">
<text x="593" y="764">1.89×</text><text x="697" y="764">6.69×</text><text x="800" y="764">2.64×</text><text x="904" y="764">36.5×</text><text x="1007" y="764">10.5×</text><text x="1111" y="764">26.4×</text><text x="1214" y="764">9.56×</text>
</g>
<g font-size="23" text-anchor="middle">
<text x="596" y="961">P<tspan font-size="14" font-style="italic" dy="8">tet2R1</tspan></text>
<text x="700" y="961">P<tspan font-size="14" font-style="italic" dy="8">tet2R2</tspan></text>
<text x="803" y="961">P<tspan font-size="14" font-style="italic" dy="8">tet2R2O</tspan></text>
<text x="907" y="961">P<tspan font-size="14" font-style="italic" dy="8">tet2R2*</tspan></text>
<text x="1010" y="961">P<tspan font-size="14" font-style="italic" dy="8">tet2R2*O</tspan></text>
<text x="1114" y="961">P<tspan font-size="14" font-style="italic" dy="8">tet2R2*1</tspan></text>
<text x="1217" y="961">P<tspan font-size="14" font-style="italic" dy="8">tet2R2*2</tspan></text>
</g>

<!-- ================= PANEL D ================= -->
<text x="4" y="1003" font-size="27">D</text>
<text transform="translate(42,1060) rotate(-90)" font-size="25" font-style="italic" text-anchor="middle">E. coli</text>
<text transform="translate(42,1228) rotate(-90)" font-size="25" font-style="italic" text-anchor="middle">B. subtilis</text>
<text transform="translate(42,1410) rotate(-90)" font-size="25" font-style="italic" text-anchor="middle">C. glutamicum</text>

<!-- E. coli row -->
<g stroke-linecap="round" fill="none">
<g transform="translate(55,979)"><rect width="168" height="168" fill="#080808"/><g clip-path="url(#ci)" stroke="#3fd43f" stroke-width="8">
<line x1="66" y1="18" x2="84" y2="14"/><line x1="40" y1="52" x2="40" y2="68"/><line x1="123" y1="42" x2="128" y2="54"/><line x1="92" y1="66" x2="100" y2="66" stroke="#2ea82e"/><line x1="150" y1="22" x2="155" y2="14"/><line x1="62" y1="110" x2="72" y2="110"/><line x1="146" y1="118" x2="144" y2="132"/><line x1="112" y1="152" x2="113" y2="160"/></g>
<path d="M112 158H168" stroke="#fff" stroke-width="2.5"/></g>
<g transform="translate(229,979)"><rect width="168" height="168" fill="#080808"/><g clip-path="url(#ci)" stroke="#3fd43f" stroke-width="8">
<line x1="30" y1="22" x2="36" y2="36"/><line x1="50" y1="14" x2="53" y2="9"/><line x1="118" y1="34" x2="124" y2="48"/><line x1="64" y1="55" x2="62" y2="68"/><line x1="22" y1="80" x2="34" y2="80"/><line x1="83" y1="88" x2="85" y2="98"/><line x1="58" y1="118" x2="70" y2="123"/><line x1="146" y1="82" x2="148" y2="88"/><line x1="105" y1="158" x2="106" y2="164"/></g>
<path d="M112 158H168" stroke="#fff" stroke-width="2.5"/></g>
<g transform="translate(402,979)"><rect width="168" height="168" fill="#080808"/><g clip-path="url(#ci)" stroke="#3fd43f" stroke-width="7">
<line x1="118" y1="12" x2="126" y2="11"/><line x1="147" y1="14" x2="152" y2="10"/><line x1="118" y1="40" x2="121" y2="35"/><line x1="22" y1="140" x2="30" y2="138"/></g>
<path d="M112 158H168" stroke="#fff" stroke-width="2.5"/></g>
<g transform="translate(576,979)"><rect width="168" height="168" fill="#080808"/><g clip-path="url(#ci)" stroke="#3fd43f" stroke-width="8">
<line x1="22" y1="8" x2="22" y2="32"/><line x1="48" y1="50" x2="58" y2="66"/><line x1="102" y1="40" x2="115" y2="30"/><line x1="30" y1="112" x2="31" y2="126"/><line x1="140" y1="58" x2="150" y2="70"/><line x1="75" y1="95" x2="80" y2="105"/><line x1="118" y1="138" x2="123" y2="150"/><line x1="60" y1="150" x2="66" y2="154"/></g>
<path d="M112 158H168" stroke="#fff" stroke-width="2.5"/></g>
<g transform="translate(750,979)"><rect width="168" height="168" fill="#080808"/><g clip-path="url(#ci)" stroke="#3fd43f" stroke-width="8">
<line x1="50" y1="22" x2="58" y2="20"/><line x1="28" y1="70" x2="30" y2="75"/><line x1="95" y1="82" x2="98" y2="77"/><line x1="130" y1="35" x2="135" y2="30"/><line x1="68" y1="140" x2="70" y2="140"/><line x1="140" y1="110" x2="144" y2="112"/><line x1="100" y1="28" x2="102" y2="24"/></g>
<path d="M112 158H168" stroke="#fff" stroke-width="2.5"/></g>
<g transform="translate(923,979)"><rect width="168" height="168" fill="#080808"/><g clip-path="url(#ci)" stroke="#3fd43f" stroke-width="8">
<line x1="88" y1="12" x2="98" y2="10"/><line x1="28" y1="60" x2="34" y2="52"/><line x1="140" y1="42" x2="144" y2="56"/><line x1="100" y1="92" x2="106" y2="86"/><line x1="48" y1="128" x2="58" y2="122"/><line x1="135" y1="150" x2="137" y2="150"/></g>
<path d="M112 158H168" stroke="#fff" stroke-width="2.5"/></g>
<g transform="translate(1097,979)"><rect width="168" height="168" fill="#080808"/><g clip-path="url(#ci)" stroke="#3fd43f" stroke-width="8">
<line x1="20" y1="16" x2="20" y2="28"/><line x1="55" y1="45" x2="60" y2="38"/><line x1="30" y1="82" x2="31" y2="82"/><line x1="45" y1="82" x2="48" y2="82"/><line x1="140" y1="72" x2="140" y2="82"/><line x1="140" y1="112" x2="141" y2="112"/><line x1="98" y1="22" x2="104" y2="18"/></g>
<path d="M112 158H168" stroke="#fff" stroke-width="2.5"/></g>
</g>

<!-- B. subtilis row -->
<g stroke-linecap="round" fill="none">
<g transform="translate(55,1152)"><rect width="168" height="168" fill="#080808"/><g clip-path="url(#ci)" stroke="#35c035" stroke-width="5">
<line x1="20" y1="112" x2="34" y2="118"/><line x1="40" y1="100" x2="40" y2="86"/><line x1="60" y1="66" x2="72" y2="70"/><line x1="78" y1="20" x2="92" y2="18"/><line x1="70" y1="95" x2="78" y2="110"/><line x1="30" y1="140" x2="45" y2="130"/><line x1="50" y1="124" x2="54" y2="140"/><line x1="100" y1="38" x2="115" y2="34"/><line x1="110" y1="58" x2="112" y2="74"/><line x1="150" y1="48" x2="145" y2="62"/><line x1="58" y1="50" x2="74" y2="55"/><line x1="120" y1="136" x2="132" y2="144"/><line x1="20" y1="155" x2="28" y2="162"/><line x1="156" y1="122" x2="162" y2="110"/><line x1="85" y1="136" x2="96" y2="126"/><line x1="88" y1="60" x2="96" y2="68"/><line x1="40" y1="150" x2="36" y2="160"/></g>
<path d="M112 158H168" stroke="#fff" stroke-width="2.5"/></g>
<g transform="translate(229,1152)"><rect width="168" height="168" fill="#080808"/><g clip-path="url(#ci)" stroke="#35c035" stroke-width="5">
<line x1="130" y1="8" x2="138" y2="20"/><line x1="72" y1="40" x2="84" y2="34"/><line x1="60" y1="55" x2="74" y2="52"/><line x1="42" y1="70" x2="42" y2="84"/><line x1="78" y1="86" x2="84" y2="96"/><line x1="110" y1="120" x2="126" y2="128"/><line x1="150" y1="95" x2="150" y2="106"/><line x1="152" y1="150" x2="160" y2="140"/><line x1="22" y1="52" x2="28" y2="46"/><line x1="30" y1="110" x2="30" y2="120"/></g>
<path d="M112 158H168" stroke="#fff" stroke-width="2.5"/></g>
<g transform="translate(402,1152)"><rect width="168" height="168" fill="#080808"/><g clip-path="url(#ci)" stroke="#24632c" stroke-width="5">
<line x1="15" y1="25" x2="25" y2="45"/><line x1="35" y1="20" x2="40" y2="40"/><line x1="55" y1="30" x2="65" y2="50"/><line x1="75" y1="18" x2="85" y2="30"/><line x1="90" y1="35" x2="100" y2="55"/><line x1="110" y1="20" x2="120" y2="38"/><line x1="130" y1="40" x2="145" y2="30"/><line x1="150" y1="15" x2="155" y2="35"/><line x1="20" y1="70" x2="35" y2="80"/><line x1="60" y1="70" x2="75" y2="65"/><line x1="100" y1="75" x2="110" y2="90"/><line x1="140" y1="80" x2="150" y2="95"/><line x1="30" y1="110" x2="40" y2="120"/><line x1="70" y1="100" x2="78" y2="115"/><line x1="120" y1="115" x2="135" y2="110"/><line x1="20" y1="140" x2="35" y2="135"/><line x1="55" y1="150" x2="65" y2="140"/><line x1="100" y1="145" x2="110" y2="160"/><line x1="140" y1="145" x2="150" y2="155"/><line x1="85" y1="125" x2="95" y2="135"/></g>
<path d="M112 158H168" stroke="#fff" stroke-width="2.5"/></g>
<g transform="translate(576,1152)"><rect width="168" height="168" fill="#080808"/><g clip-path="url(#ci)" stroke="#35c035" stroke-width="5">
<line x1="25" y1="18" x2="30" y2="34"/><line x1="48" y1="26" x2="56" y2="20"/><line x1="96" y1="44" x2="110" y2="58"/><line x1="70" y1="96" x2="76" y2="102"/><line x1="140" y1="68" x2="146" y2="80"/><line x1="20" y1="140" x2="30" y2="148"/><line x1="110" y1="130" x2="122" y2="140"/><line x1="150" y1="20" x2="156" y2="30"/><line x1="40" y1="60" x2="44" y2="70"/></g>
<path d="M112 158H168" stroke="#fff" stroke-width="2.5"/></g>
<g transform="translate(750,1152)"><rect width="168" height="168" fill="#080808"/><g clip-path="url(#ci)" stroke="#173f1c" stroke-width="5">
<line x1="40" y1="40" x2="50" y2="50"/><line x1="100" y1="60" x2="110" y2="70"/><line x1="70" y1="120" x2="80" y2="125"/><line x1="130" y1="140" x2="138" y2="150"/></g>
<path d="M112 158H168" stroke="#fff" stroke-width="2.5"/></g>
<g transform="translate(923,1152)"><rect width="168" height="168" fill="#080808"/><g clip-path="url(#ci)" stroke="#35c035" stroke-width="5">
<line x1="40" y1="14" x2="56" y2="11"/><line x1="110" y1="18" x2="115" y2="32"/><line x1="25" y1="58" x2="30" y2="72"/><line x1="80" y1="40" x2="92" y2="50"/><line x1="140" y1="55" x2="145" y2="68"/><line x1="60" y1="100" x2="66" y2="112"/><line x1="100" y1="120" x2="112" y2="126"/><line x1="150" y1="100" x2="156" y2="92"/><line x1="30" y1="130" x2="40" y2="142"/><line x1="120" y1="80" x2="130" y2="86"/></g>
<path d="M112 158H168" stroke="#fff" stroke-width="2.5"/></g>
<g transform="translate(1097,1152)"><rect width="168" height="168" fill="#080808"/><g clip-path="url(#ci)" stroke="#35c035" stroke-width="5">
<line x1="20" y1="20" x2="35" y2="26"/><line x1="60" y1="10" x2="72" y2="15"/><line x1="90" y1="20" x2="95" y2="32"/><line x1="120" y1="14" x2="132" y2="24"/><line x1="150" y1="35" x2="156" y2="48"/><line x1="30" y1="50" x2="46" y2="45"/><line x1="80" y1="55" x2="96" y2="60"/><line x1="110" y1="50" x2="120" y2="62"/><line x1="20" y1="85" x2="30" y2="96"/><line x1="65" y1="90" x2="76" y2="100"/><line x1="90" y1="100" x2="100" y2="112"/><line x1="130" y1="84" x2="142" y2="90"/><line x1="50" y1="120" x2="62" y2="128"/><line x1="100" y1="130" x2="112" y2="140"/><line x1="145" y1="120" x2="150" y2="132"/><line x1="30" y1="150" x2="40" y2="156"/><line x1="125" y1="158" x2="135" y2="160"/></g>
<path d="M112 158H168" stroke="#fff" stroke-width="2.5"/></g>
</g>

<!-- C. glutamicum row -->
<g stroke-linecap="round" fill="none">
<g transform="translate(55,1326)"><rect width="168" height="168" fill="#080808"/><g clip-path="url(#ci)" stroke="#1f5a29" stroke-width="8">
<line x1="65" y1="25" x2="67" y2="27"/><line x1="75" y1="32" x2="77" y2="34"/><line x1="82" y1="26" x2="84" y2="28"/><line x1="88" y1="40" x2="90" y2="42"/><line x1="30" y1="85" x2="32" y2="87"/><line x1="120" y1="65" x2="122" y2="67"/><line x1="128" y1="78" x2="130" y2="80"/><line x1="58" y1="130" x2="60" y2="132"/><line x1="140" y1="140" x2="142" y2="142"/><line x1="100" y1="100" x2="102" y2="102"/></g>
<path d="M112 158H168" stroke="#fff" stroke-width="2.5"/></g>
<g transform="translate(229,1326)"><rect width="168" height="168" fill="#080808"/><g clip-path="url(#ci)" stroke="#1f5a29" stroke-width="8">
<line x1="40" y1="20" x2="42" y2="22"/><line x1="48" y1="25" x2="50" y2="27"/><line x1="110" y1="30" x2="112" y2="32"/><line x1="118" y1="36" x2="120" y2="38"/><line x1="125" y1="30" x2="127" y2="32"/><line x1="30" y1="100" x2="32" y2="102"/><line x1="85" y1="70" x2="87" y2="72"/><line x1="140" y1="120" x2="142" y2="122"/><line x1="60" y1="140" x2="62" y2="142"/></g>
<path d="M112 158H168" stroke="#fff" stroke-width="2.5"/></g>
<g transform="translate(402,1326)"><rect width="168" height="168" fill="#080808"/><g clip-path="url(#ci)" stroke="#1c4f25" stroke-width="8">
<line x1="40" y1="60" x2="42" y2="62"/><line x1="100" y1="40" x2="102" y2="42"/><line x1="130" y1="110" x2="132" y2="112"/><line x1="70" y1="150" x2="72" y2="152"/><line x1="20" y1="120" x2="22" y2="122"/></g>
<path d="M112 158H168" stroke="#fff" stroke-width="2.5"/></g>
<g transform="translate(576,1326)"><rect width="168" height="168" fill="#080808"/><g clip-path="url(#ci)" stroke="#1c4f25" stroke-width="8">
<line x1="50" y1="75" x2="52" y2="77"/><line x1="57" y1="80" x2="59" y2="82"/><line x1="130" y1="45" x2="132" y2="47"/><line x1="137" y1="50" x2="139" y2="52"/><line x1="15" y1="120" x2="17" y2="122"/><line x1="90" y1="130" x2="92" y2="132"/></g>
<path d="M112 158H168" stroke="#fff" stroke-width="2.5"/></g>
<g transform="translate(750,1326)"><rect width="168" height="168" fill="#080808"/><g clip-path="url(#ci)" stroke="#183f20" stroke-width="8">
<line x1="30" y1="10" x2="32" y2="12"/><line x1="35" y1="30" x2="37" y2="32"/><line x1="30" y1="70" x2="32" y2="72"/><line x1="40" y1="95" x2="42" y2="97"/><line x1="40" y1="110" x2="42" y2="112"/><line x1="42" y1="125" x2="44" y2="127"/><line x1="45" y1="140" x2="47" y2="142"/><line x1="140" y1="20" x2="142" y2="22"/><line x1="130" y1="135" x2="132" y2="137"/><line x1="120" y1="60" x2="122" y2="62"/></g>
<path d="M112 158H168" stroke="#fff" stroke-width="2.5"/></g>
<g transform="translate(923,1326)"><rect width="168" height="168" fill="#080808"/><g clip-path="url(#ci)" stroke="#1f5a29" stroke-width="8">
<line x1="40" y1="60" x2="42" y2="62"/><line x1="48" y1="66" x2="50" y2="68"/><line x1="55" y1="58" x2="57" y2="60"/><line x1="70" y1="70" x2="72" y2="72"/><line x1="75" y1="80" x2="77" y2="82"/><line x1="82" y1="62" x2="84" y2="64"/><line x1="88" y1="72" x2="90" y2="74"/><line x1="10" y1="130" x2="12" y2="132"/><line x1="120" y1="10" x2="122" y2="12"/><line x1="130" y1="25" x2="132" y2="27"/></g>
<path d="M112 158H168" stroke="#fff" stroke-width="2.5"/></g>
<g transform="translate(1097,1326)"><rect width="168" height="168" fill="#080808"/><g clip-path="url(#ci)" stroke="#1f5a29" stroke-width="8">
<line x1="25" y1="20" x2="27" y2="22"/><line x1="30" y1="30" x2="32" y2="32"/><line x1="120" y1="10" x2="122" y2="12"/><line x1="125" y1="25" x2="127" y2="27"/><line x1="128" y1="35" x2="130" y2="37"/><line x1="55" y1="95" x2="57" y2="97"/><line x1="60" y1="105" x2="62" y2="107"/><line x1="105" y1="85" x2="107" y2="87"/><line x1="110" y1="95" x2="112" y2="97"/><line x1="112" y1="110" x2="114" y2="112"/><line x1="30" y1="135" x2="32" y2="137"/><line x1="38" y1="145" x2="40" y2="147"/></g>
<path d="M112 158H168" stroke="#fff" stroke-width="2.5"/></g>
</g>
<g fill="#fff" font-size="17" text-anchor="end">
<text x="1263" y="1132">10 µm</text><text x="1263" y="1305">10 µm</text><text x="1263" y="1479">10 µm</text>
</g>
<g font-size="26" text-anchor="middle">
<text x="139" y="1517">P<tspan font-size="15" font-style="italic" dy="8">tet2R1</tspan></text>
<text x="313" y="1517">P<tspan font-size="15" font-style="italic" dy="8">tet2R2</tspan></text>
<text x="486" y="1517">P<tspan font-size="15" font-style="italic" dy="8">tet2R2O</tspan></text>
<text x="660" y="1517">P<tspan font-size="15" font-style="italic" dy="8">tet2R2*</tspan></text>
<text x="834" y="1517">P<tspan font-size="15" font-style="italic" dy="8">tet2R2*O</tspan></text>
<text x="1007" y="1517">P<tspan font-size="15" font-style="italic" dy="8">tet2R2*1</tspan></text>
<text x="1181" y="1517">P<tspan font-size="15" font-style="italic" dy="8">tet2R2*2</tspan></text>
</g>
</svg>
</body></html>
